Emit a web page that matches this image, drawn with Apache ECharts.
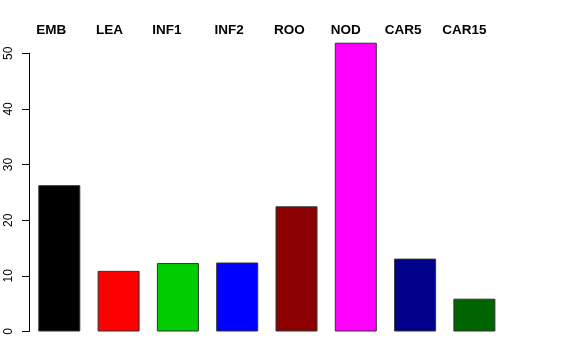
<!DOCTYPE html>
<html>
<head>
<meta charset="utf-8">
<script src="https://cdn.jsdelivr.net/npm/echarts@6/dist/echarts.min.js"></script>
<style>html,body{margin:0;padding:0;background:#fff;}#c{width:576px;height:360px;}</style>
</head>
<body>
<div id="c"></div>
<script>
const categories = ["EMB", "LEA", "INF1", "INF2", "ROO", "NOD", "CAR5", "CAR15"];
const values = [26.3, 10.9, 12.3, 12.4, 22.5, 51.9, 13.1, 5.9];
const barColors = ["#000000", "#FF0000", "#00CD00", "#0000FF", "#8B0000", "#FF00FF", "#00008B", "#006400"];
const yTicks = [0, 10, 20, 30, 40, 50];
// horizontal shift (px) of each top label relative to its bar centre
const labelShift = [-8, -9, -11, -8, -7, -10, -12, -10];

const chart = echarts.init(document.getElementById('c'), null, {renderer: 'canvas'});
const font = '"Liberation Sans", Arial, Helvetica, sans-serif';
chart.setOption({
  animation: false,
  backgroundColor: '#ffffff',
  grid: [
    {left: 29.65, width: 474.4, top: 31.05, bottom: 28.5},
    {left: 29, width: 474.4, top: 53.3, bottom: 28.5}
  ],
  xAxis: [
    {type: 'category', gridIndex: 0, position: 'top',
     data: categories.map((c, i) => ({value: c, textStyle: {padding: [0, -2 * labelShift[i], 0, 0]}})),
     axisLine: {show: false}, axisTick: {show: false},
     axisLabel: {show: true, margin: -6, fontFamily: font, fontWeight: 'bold', fontSize: 13.5, color: '#000'}},
    {type: 'category', gridIndex: 1, data: categories, show: false}
  ],
  yAxis: [
    {type: 'value', gridIndex: 0, min: 0, max: 54, show: false, splitLine: {show: false}},
    {type: 'value', gridIndex: 1, min: yTicks[0], max: yTicks[yTicks.length - 1], interval: 10,
     axisLine: {show: true, lineStyle: {color: '#000', width: 1}},
     axisTick: {show: true, length: 7, lineStyle: {color: '#000'}},
     splitLine: {show: false},
     axisLabel: {rotate: 90, margin: 14, fontFamily: font, fontSize: 12, color: '#000'}}
  ],
  series: [{
    type: 'bar', xAxisIndex: 0, yAxisIndex: 0, barWidth: 42,
    data: values.map((v, i) => ({value: v, itemStyle: {color: barColors[i]}})),
    itemStyle: {borderColor: '#333', borderWidth: 1}
  }]
});
</script>
</body>
</html>
